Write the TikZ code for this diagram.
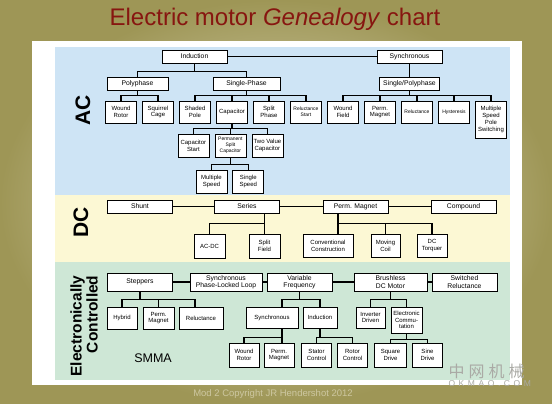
\documentclass[tikz,border=0pt]{standalone}
\usepackage{fontspec}
\setmainfont{Liberation Sans}
\newfontfamily\cjkfont{Noto Sans CJK SC}
\newfontfamily\markfont[LetterSpace=42]{Liberation Sans}
\usepackage{xcolor}
\usetikzlibrary{positioning, calc}

\definecolor{oliveout}{RGB}{158,150,86}
\definecolor{olivein}{RGB}{228,225,200}
\definecolor{titlered}{RGB}{135,22,16}
\definecolor{acblue}{RGB}{206,228,245}
\definecolor{dcyellow}{RGB}{252,248,212}
\definecolor{ecgreen}{RGB}{206,231,214}
\definecolor{copygray}{RGB}{205,199,160}
\definecolor{markgray}{RGB}{170,170,165}

\newcommand{\boxfont}{\fontsize{6}{6.8}\selectfont}
\newcommand{\hubfont}{\fontsize{6.8}{7.4}\selectfont}
\newcommand{\smallbox}{\fontsize{5}{5.8}\selectfont}

\begin{document}
\begin{tikzpicture}[
    x=1pt, y=-1pt,
    hub/.style={rectangle, draw=black, fill=white, line width=0.8pt, minimum width=65pt, minimum height=13pt, inner sep=1pt, align=center, font=\hubfont},
    leaf/.style={rectangle, draw=black, fill=white, line width=0.8pt, minimum width=31pt, minimum height=22pt, inner sep=1pt, align=center, font=\boxfont},
    low/.style={minimum width=30pt, minimum height=24pt},
    link/.style={line width=1.1pt},
    elbow/.style={to path={(\tikztostart) -- ++(0,-#1) -| (\tikztotarget)}},
    sidetag/.style={font=\bfseries\fontsize{21}{21}\selectfont, rotate=90}
]
    \useasboundingbox (0,0) rectangle (552,404);

    % Background and panels
    \shade[inner color=olivein, outer color=oliveout] (0,0) rectangle (552,404);
    \fill[white] (32,41) rectangle (522,385);
    \fill[acblue] (55,47) rectangle (510,195);
    \fill[dcyellow] (55,195) rectangle (510,262);
    \fill[ecgreen] (55,262) rectangle (510,380);

    \node[font=\fontsize{24}{26}\selectfont, text=titlered] (title) at (275,19) {Electric motor \textit{Genealogy} chart};

    % AC
    \node[sidetag] (aclabel) at (83,110) {AC};
    \node[hub] (induction) at (194.5,56.5) {Induction};
    \node[hub] (synchronous) at (409.5,56.5) {Synchronous};
    \node[hub, minimum width=61pt] (polyphase) at (137.5,83.5) {Polyphase};
    \node[hub, minimum width=67pt] (singlephase) at (246.5,83.5) {Single-Phase};
    \node[hub, minimum width=60pt] (singlepoly) at (409.5,83.5) {Single/Polyphase};

    \node[leaf] (woundrotor) at (121,112) {Wound\\Rotor};
    \node[leaf, right=5.2pt of woundrotor] (squirrel) {Squirrel\\Cage};
    \node[leaf, right=5.2pt of squirrel] (shaded) {Shaded\\Pole};
    \node[leaf, right=5.2pt of shaded] (capacitor) {Capacitor};
    \node[leaf, right=5.2pt of capacitor] (splitphase) {Split\\Phase};
    \node[leaf, right=5.2pt of splitphase, font=\smallbox] (relstart) {Reluctance\\Start};
    \node[leaf, right=5.2pt of relstart] (woundfield) {Wound\\Field};
    \node[leaf, right=5.2pt of woundfield] (permmag) {Perm.\\Magnet};
    \node[leaf, right=5.2pt of permmag, font=\smallbox] (reluctance) {Reluctance};
    \node[leaf, right=5.2pt of reluctance, font=\smallbox] (hysteresis) {Hysteresis};
    \node[leaf, minimum height=37pt, anchor=north west] (poleswitch) at ([xshift=5.2pt]hysteresis.north east) {Multiple\\Speed\\Pole\\Switching};

    \node[leaf, minimum height=23pt] (capstart) at (193.4,145.5) {Capacitor\\Start};
    \node[leaf, minimum height=23pt, right=5.2pt of capstart, font=\smallbox] (psc) {Permanent\\Split\\Capacitor};
    \node[leaf, minimum height=23pt, right=5.2pt of psc] (twovalue) {Two Value\\Capacitor};
    \node[leaf, minimum height=23pt] (multiple) at (211.5,181.5) {Multiple\\Speed};
    \node[leaf, minimum height=23pt, right=5pt of multiple] (single) {Single\\Speed};

    \draw[link] (induction) -- (synchronous);
    \draw[link] (synchronous) -- (singlepoly);
    \draw[link] (induction.south) to[elbow=8pt] (polyphase.north)
                (induction.south) to[elbow=8pt] (singlephase.north);
    \draw[link] (polyphase.south) to[elbow=5pt] (woundrotor.north)
                (polyphase.south) to[elbow=5pt] (squirrel.north);
    \draw[link] (singlephase.south) to[elbow=5pt] (shaded.north)
                (singlephase.south) to[elbow=5pt] (capacitor.north)
                (singlephase.south) to[elbow=5pt] (splitphase.north)
                (singlephase.south) to[elbow=5pt] (relstart.north);
    \draw[link] (singlepoly.south) to[elbow=5pt] (woundfield.north)
                (singlepoly.south) to[elbow=5pt] (permmag.north)
                (singlepoly.south) to[elbow=5pt] (reluctance.north)
                (singlepoly.south) to[elbow=5pt] (hysteresis.north)
                (singlepoly.south) to[elbow=5pt] (poleswitch.north);
    \draw[link] (capacitor.south) to[elbow=5pt] (capstart.north)
                (capacitor.south) to[elbow=5pt] (psc.north)
                (capacitor.south) to[elbow=5pt] (twovalue.north);
    \draw[link] (psc.south) to[elbow=7pt] (multiple.north)
                (psc.south) to[elbow=7pt] (single.north);

    % DC
    \node[sidetag] (dclabel) at (81,222) {DC};
    \node[hub] (shunt) at (140,206.5) {Shunt};
    \node[hub] (series) at (247,206.5) {Series};
    \node[hub] (permmagdc) at (355.5,206.5) {Perm. Magnet};
    \node[hub] (compound) at (463.5,206.5) {Compound};
    \node[leaf, minimum height=24pt] (acdc) at (209.5,246) {AC-DC};
    \node[leaf, minimum height=24pt] (splitfield) at (264.5,246) {Split\\Field};
    \node[leaf, minimum width=50pt, minimum height=23pt] (conventional) at (328,245.5) {Conventional\\Construction};
    \node[leaf, minimum width=29pt, minimum height=23pt] (movingcoil) at (385.5,245.5) {Moving\\Coil};
    \node[leaf, minimum width=30pt, minimum height=23pt] (torquer) at (432,245.5) {DC\\Torquer};
    \coordinate (seriesfoot) at (series.south -| splitfield);
    \coordinate (pmfoot) at ([xshift=-17.5pt]permmagdc.south);

    \draw[link] (shunt) -- (series) (series) -- (permmagdc) (permmagdc) -- (compound);
    \draw[link] (seriesfoot) to[elbow=10pt] (acdc.north)
                (seriesfoot) to[elbow=10pt] (splitfield.north);
    \draw[link] (pmfoot) to[elbow=10pt] (pmfoot |- conventional.north)
                (pmfoot) to[elbow=10pt] (movingcoil.north)
                (pmfoot) to[elbow=10pt] (torquer.north);

    % Electronically controlled
    \node[sidetag, font=\bfseries\fontsize{15.5}{16}\selectfont, align=right] (eclabel) at (84,326) {Electronically\\Controlled};
    \node[font=\fontsize{12.5}{13}\selectfont] (smma) at (153,358) {SMMA};
    \node[hub, minimum height=18pt] (steppers) at (140,282) {Steppers};
    \node[hub, minimum width=72pt, minimum height=18pt] (pll) at (226,282) {Synchronous\\Phase-Locked Loop};
    \node[hub, minimum height=18pt] (varfreq) at (299.5,282) {Variable\\Frequency};
    \node[hub, minimum width=73pt, minimum height=18pt] (brushless) at (390.5,282) {Brushless\\DC Motor};
    \node[hub, minimum height=18pt] (switched) at (464.5,282) {Switched\\Reluctance};

    \node[leaf, minimum width=30pt] (hybrid) at (122,318) {Hybrid};
    \node[leaf] (permmagst) at (158.5,318) {Perm.\\Magnet};
    \node[leaf, minimum width=44pt] (relst) at (201,318) {Reluctance};
    \node[leaf, minimum width=52pt, minimum height=21pt] (synchron) at (272,317.5) {Synchronous};
    \node[leaf, minimum width=34pt, minimum height=21pt] (induct) at (320,317.5) {Induction};
    \node[leaf, minimum width=29pt, minimum height=21pt] (inverter) at (370.5,317.5) {Inverter\\Driven};
    \node[leaf, minimum height=26pt] (commutation) at (406.5,320) {Electronic\\Commu-\\tation};

    \node[leaf, low] (woundrotorec) at (244,355) {Wound\\Rotor};
    \node[leaf, low] (permmagec) at (279,355) {Perm.\\Magnet};
    \node[leaf, low] (stator) at (316.5,355) {Stator\\Control};
    \node[leaf, low] (rotor) at (352.5,355) {Rotor\\Control};
    \node[leaf, low, minimum width=32pt] (square) at (390.5,355) {Square\\Drive};
    \node[leaf, low] (sine) at (427.5,355) {Sine\\Drive};
    \coordinate (synfoot) at ([xshift=10pt]synchron.south);

    \draw[link] (steppers) -- (pll) (pll) -- (varfreq) (varfreq) -- (brushless) (brushless) -- (switched);
    \draw[link] (steppers.south) to[elbow=8pt] (hybrid.north)
                (steppers.south) to[elbow=8pt] (permmagst.north)
                (steppers.south) to[elbow=8pt] ([xshift=-6pt]relst.north);
    \draw[link] (varfreq.south) to[elbow=8pt] (synfoot |- synchron.north)
                (varfreq.south) to[elbow=8pt] (induct.north);
    \draw[link] (brushless.south) to[elbow=8pt] (inverter.north)
                (brushless.south) to[elbow=8pt] (commutation.north);
    \draw[link] (synfoot) to[elbow=9pt] (woundrotorec.north)
                (synfoot) to[elbow=9pt] (synfoot |- permmagec.north);
    \draw[link] (induct.south) to[elbow=9pt] (stator.north)
                (induct.south) to[elbow=9pt] (rotor.north);
    \draw[link] (commutation.south) to[elbow=6pt] (square.north)
                (commutation.south) to[elbow=6pt] (sine.north);

    % Footer
    \node[font=\fontsize{9.5}{11}\selectfont, text=copygray] (copyright) at (273,394) {Mod 2 Copyright JR Hendershot 2012};
    \node[font=\cjkfont\fontsize{16}{16}\selectfont, text=markgray, anchor=west] (markcn) at (445,371) {中\hspace{4pt}网\hspace{4pt}机\hspace{4pt}械};
    \node[font=\markfont\fontsize{8.5}{9}\selectfont, text=markgray, anchor=west] (marken) at (445,384) {OKMAO.COM};
\end{tikzpicture}
\end{document}
